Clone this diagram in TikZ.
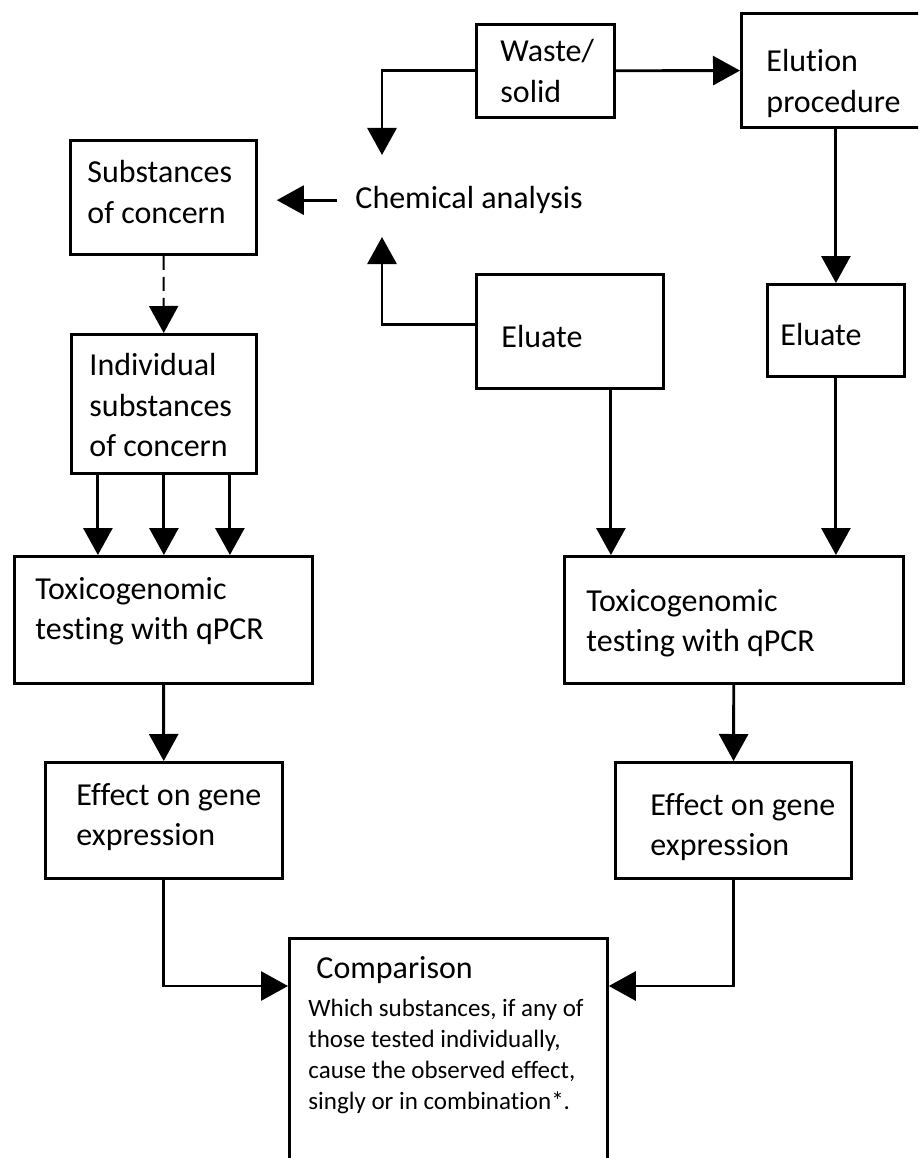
\documentclass[tikz,border=0pt]{standalone}
\usepackage{fontspec}
\setmainfont{Carlito}[Ligatures=NoCommon]
\usetikzlibrary{arrows.meta,calc,positioning}

\begin{document}
\begin{tikzpicture}[x=1pt,y=-1pt,->,>={Triangle[length=27pt,width=29pt]},line width=2.9pt,
                    main node/.style={draw,rectangle,anchor=north west,inner sep=0pt,line width=2.8pt},
                    text node/.style={anchor=north west,inner sep=0pt,align=left,font=\fontsize{32}{40.5}\selectfont},
                    note node/.style={anchor=north west,inner sep=0pt,align=left,font=\fontsize{25}{31}\selectfont}]
                        \useasboundingbox (0,0) rectangle (918,1158);
                        \clip (0,0) rectangle (918,1158);

                        \node[main node,minimum width=138pt,minimum height=93pt] (1) at (475,23) {};
                        \node[main node,minimum width=200pt,minimum height=114pt] (2) at (740,12) {};
                        \node[text node,inner xsep=17pt] (3) at (337,185) {Chemical analysis};
                        \node[main node,minimum width=186pt,minimum height=114pt] (4) at (69,139) {};
                        \node[main node,minimum width=185pt,minimum height=139pt] (5) at (70,333) {};
                        \node[main node,minimum width=187pt,minimum height=114pt] (6) at (475,273) {};
                        \node[main node,minimum width=137pt,minimum height=92pt] (7) at (766,283) {};
                        \node[main node,minimum width=298pt,minimum height=127pt] (8) at (13,555) {};
                        \node[main node,minimum width=339pt,minimum height=127pt] (9) at (563,555) {};
                        \node[main node,minimum width=237pt,minimum height=116pt] (10) at (44,761) {};
                        \node[main node,minimum width=236pt,minimum height=116pt] (11) at (614,761) {};
                        \node[main node,minimum width=318pt,minimum height=260pt] (12) at (288,937) {};

                        \node[text node] (t1) at ($(1.north west)+(24,15)$) {Waste/\\solid};
                        \node[text node] (t2) at ($(2.north west)+(25,36)$) {Elution\\procedure};
                        \node[text node] (t4) at ($(4.north west)+(17,20)$) {Substances\\of concern};
                        \node[text node] (t5) at ($(5.north west)+(18,19)$) {Individual\\substances\\of concern};
                        \node[text node] (t6) at ($(6.north west)+(25,51)$) {Eluate};
                        \node[text node] (t7) at ($(7.north west)+(13,39)$) {Eluate};
                        \node[text node] (t8) at ($(8.north west)+(21,21)$) {Toxicogenomic\\testing with qPCR};
                        \node[text node] (t9) at ($(9.north west)+(22,33)$) {Toxicogenomic\\testing with qPCR};
                        \node[text node] (t10) at ($(10.north west)+(31,21)$) {Effect on gene\\expression};
                        \node[text node] (t11) at ($(11.north west)+(35,31)$) {Effect on gene\\expression};
                        \node[text node] (t12) at ($(12.north west)+(27,18)$) {Comparison};
                        \node[note node] (t13) at ($(12.north west)+(19,61)$) {Which substances, if any of\\those tested individually,\\cause the observed effect,\\singly or in combination*.};

                        \coordinate (a) at (382,155);
                        \coordinate (b) at (382,237);

                        \path
                                (1) edge (2)
                                (4) edge[line width=2pt,dash pattern=on 14pt off 7pt] (5)
                                (8) edge (10)
                                (9) edge (11)
                                (3.west) edge[shorten >=19pt] (3.west -| 4.east)
                                (7.north |- 2.south) edge (7.north)
                            ;

                        \draw (1.west) -| (a);
                        \draw ([yshift=7pt]6.west) -| (b);
                        \foreach \d in {-66,0,66}
                                \draw ([xshift=\d pt]5.south) -- ([xshift=\d pt]5.south |- 8.north);
                        \draw ([xshift=41pt]6.south) -- ([xshift=41pt]6.south |- 9.north);
                        \draw (7.south) -- (7.south |- 9.north);
                        \draw (10.south) |- ([yshift=-49pt]12.north west);
                        \draw (11.south) |- ([yshift=-49pt]12.north east);
                    \end{tikzpicture}
\end{document}
